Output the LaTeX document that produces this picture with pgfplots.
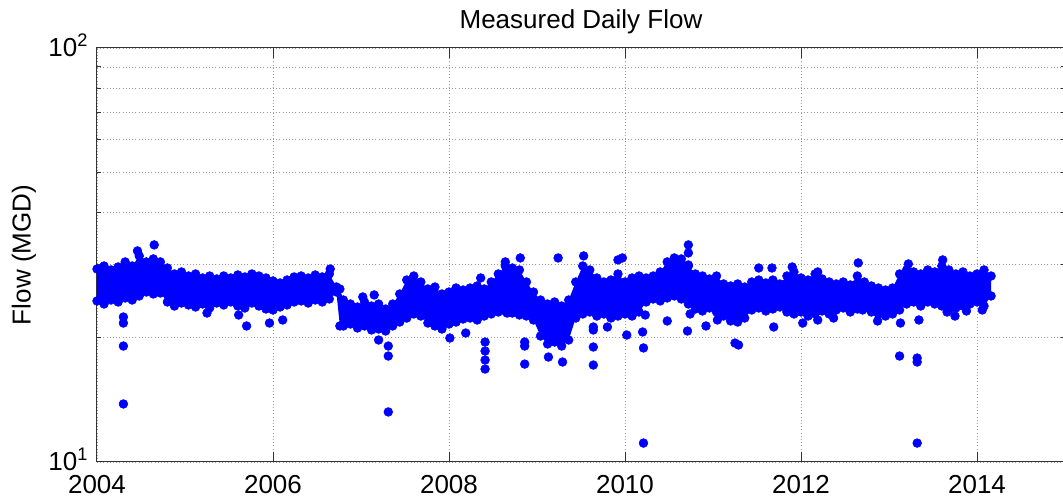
\documentclass[border=0pt]{standalone}
\usepackage{fontspec}
\setmainfont{Liberation Sans}
\usepackage{pgfplots}
\usepackage{pgfplotstable}
\pgfplotsset{compat=1.18}
\usepgfplotslibrary{fillbetween}

% upper and lower edge of the dense band of daily values (year, MGD)
\pgfplotstableread{
t hi lo
2004.00 29.26 24.49
2004.08 29.75 24.08
2004.16 29.10 24.62
2004.24 29.59 24.35
2004.32 30.43 24.90
2004.40 29.75 24.62
2004.48 31.46 25.18
2004.56 30.43 25.74
2004.64 30.94 25.46
2004.72 30.43 25.60
2004.80 29.42 24.35
2004.88 28.46 23.81
2004.96 28.78 24.21
2005.04 28.14 23.95
2005.12 28.46 23.68
2005.20 27.83 24.08
2005.28 28.14 23.55
2005.36 27.68 24.21
2005.44 28.14 23.95
2005.52 27.83 24.35
2005.60 28.30 23.81
2005.68 27.99 23.55
2005.76 28.46 24.21
2005.84 28.14 23.81
2005.92 27.83 23.42
2006.00 27.37 23.29
2006.08 27.07 23.68
2006.16 27.52 23.95
2006.24 27.99 24.35
2006.32 28.14 24.49
2006.40 27.83 24.21
2006.48 28.30 24.62
2006.56 27.99 24.35
2006.64 28.46 24.76
2006.72 26.47 25.74
2006.76 26.18 21.31
2006.80 24.62 21.31
2006.88 24.08 21.54
2006.96 23.68 21.07
2007.04 24.35 21.31
2007.12 23.81 20.84
2007.20 24.08 20.95
2007.28 23.42 20.72
2007.36 24.08 21.31
2007.44 25.46 21.78
2007.52 27.52 22.27
2007.60 28.14 22.78
2007.68 27.22 22.52
2007.76 26.18 21.66
2007.84 26.47 21.31
2007.92 25.46 20.95
2008.00 25.74 21.54
2008.08 26.32 21.78
2008.16 26.03 22.15
2008.24 26.32 22.27
2008.32 26.62 22.03
2008.40 26.18 22.52
2008.48 27.22 22.78
2008.56 28.46 23.03
2008.64 29.75 23.16
2008.72 29.42 22.90
2008.80 29.10 22.65
2008.88 27.22 22.52
2008.96 25.74 22.03
2009.04 24.62 20.15
2009.12 24.08 19.28
2009.20 24.35 19.49
2009.28 23.81 19.06
2009.36 24.62 19.71
2009.44 27.22 22.27
2009.52 29.75 22.78
2009.60 29.10 23.03
2009.68 27.83 22.52
2009.76 27.22 22.78
2009.84 27.52 22.27
2009.92 28.46 22.52
2010.00 27.22 22.78
2010.08 27.83 22.52
2010.16 28.14 23.03
2010.24 27.83 24.35
2010.32 28.14 24.76
2010.40 28.78 24.49
2010.48 30.43 24.90
2010.56 31.11 25.18
2010.64 30.94 24.76
2010.72 29.75 24.08
2010.80 28.46 23.42
2010.88 28.14 23.16
2010.96 27.68 23.55
2011.04 28.14 23.03
2011.12 26.92 22.52
2011.20 26.62 21.91
2011.28 26.92 21.78
2011.36 26.47 22.27
2011.44 27.22 23.29
2011.52 27.52 23.55
2011.60 27.07 23.16
2011.68 27.52 23.42
2011.76 26.92 23.68
2011.84 28.14 23.03
2011.92 28.78 22.78
2012.00 27.83 23.03
2012.08 27.52 22.52
2012.16 28.46 22.78
2012.24 27.68 23.16
2012.32 27.22 22.78
2012.40 26.92 23.29
2012.48 27.22 23.55
2012.56 26.77 23.03
2012.64 28.14 23.42
2012.72 27.22 23.55
2012.80 26.62 23.03
2012.88 26.32 22.78
2012.96 26.03 22.52
2013.04 26.32 22.78
2013.12 28.46 23.29
2013.20 29.10 24.08
2013.28 28.78 24.35
2013.36 28.46 23.81
2013.44 29.10 24.35
2013.52 28.78 24.08
2013.60 29.75 23.81
2013.68 29.10 23.29
2013.76 28.46 23.55
2013.84 28.78 23.81
2013.92 28.14 24.08
2014.00 28.46 24.35
2014.08 29.10 23.81
2014.16 28.14 25.18
}\bandtab

% scattered days away from the band
\pgfplotstableread{
t v
2004.46 32.35
2004.65 33.45
2004.30 22.40
2004.30 21.66
2004.30 19.06
2004.30 13.81
2005.25 22.90
2005.61 22.65
2005.70 21.31
2005.96 21.66
2006.11 22.03
2006.65 29.26
2007.02 25.04
2007.15 25.32
2007.20 19.71
2007.31 19.06
2007.31 18.03
2007.31 13.21
2008.01 19.93
2008.19 20.49
2008.36 27.83
2008.41 19.49
2008.41 18.54
2008.41 17.63
2008.41 16.77
2008.64 30.43
2008.66 22.90
2008.81 31.11
2008.86 19.49
2008.86 19.06
2008.86 17.24
2009.13 17.93
2009.29 17.44
2009.24 31.11
2009.53 31.46
2009.64 21.19
2009.64 20.84
2009.64 18.96
2009.64 17.15
2009.80 21.19
2009.92 30.77
2009.97 31.11
2010.02 20.26
2010.20 20.61
2010.21 18.86
2010.21 11.11
2010.23 22.65
2010.48 21.91
2010.71 20.72
2010.72 33.45
2010.72 31.99
2010.72 29.92
2010.74 22.78
2010.92 21.31
2011.05 22.03
2011.25 19.38
2011.29 19.17
2011.52 29.42
2011.67 29.42
2011.69 21.19
2011.90 29.59
2012.02 21.66
2012.19 28.78
2012.19 22.03
2012.37 22.27
2012.65 30.26
2012.70 23.29
2012.87 21.91
2013.13 21.66
2013.12 18.03
2013.32 17.83
2013.32 17.44
2013.32 11.11
2013.34 22.03
2013.22 30.09
2013.61 30.77
2013.66 23.03
2013.75 22.52
2013.88 23.16
2014.06 23.29
}\extratab

\newcommand{\chartfont}{\fontsize{19.5}{23}\selectfont}

\begin{document}
\begin{tikzpicture}
\begin{axis}[
    scale only axis,
    width=726pt, height=310.5pt,
    xmin=2004, xmax=2015,
    ymode=log, ymin=10, ymax=100,
    xtick={2004,2006,2008,2010,2012,2014},
    xticklabels={2004,2006,2008,2010,2012,2014},
    ytick={10,100},
    yticklabels={10\textsuperscript{1},10\textsuperscript{2}},
    xmajorgrids, ymajorgrids, yminorgrids,
    major grid style={dotted, gray!80, line width=0.6pt},
    minor grid style={dotted, gray!80, line width=0.6pt},
    tick align=inside,
    major tick length=7.5pt,
    minor tick length=3pt,
    tick style={black!80, line width=0.75pt},
    axis line style={black!80, line width=0.75pt},
    tick label style={font=\chartfont, inner sep=1pt},
    x tick label style={yshift=-8.5pt},
    y tick label style={xshift=-5.5pt, yshift=2pt},
    label style={font=\chartfont},
    title style={font=\chartfont, yshift=1pt},
    title={Measured Daily Flow},
    ylabel={Flow (MGD)},
    ylabel style={at={(axis description cs:-0.0754,0.5)}, anchor=center},
]
\addplot[draw=none, name path=hi, forget plot] table[x=t, y=hi] {\bandtab};
\addplot[draw=none, name path=lo, forget plot] table[x=t, y=lo] {\bandtab};
\addplot[fill=blue, draw=none] fill between[of=hi and lo];
\addplot[only marks, mark=*, mark size=3.3pt, color=blue] table[x=t, y=hi] {\bandtab};
\addplot[only marks, mark=*, mark size=3.3pt, color=blue] table[x=t, y=lo] {\bandtab};
\addplot[only marks, mark=*, mark size=3.3pt, color=blue] table[x=t, y=v] {\extratab};
\end{axis}
\pgfresetboundingbox
\path[use as bounding box] (current axis.south west) ++(-72.75pt,-30pt) rectangle ++(797.25pt,376.5pt);
\end{tikzpicture}
\end{document}
